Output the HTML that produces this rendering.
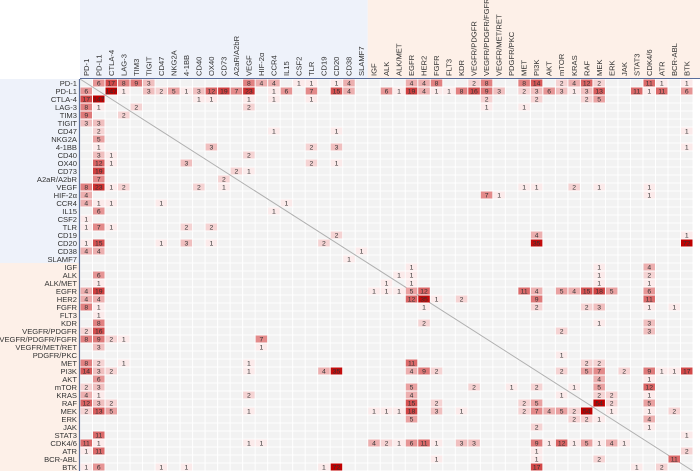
<!DOCTYPE html>
<html><head><meta charset="utf-8"><style>
html,body{margin:0;padding:0;background:#fff;}
svg{display:block;font-family:"Liberation Sans",sans-serif;}
</style></head><body>
<svg id="chart" width="700" height="471"></svg>
<script>
const labels = ["PD-1","PD-L1","CTLA-4","LAG-3","TIM3","TIGIT","CD47","NKG2A","4-1BB","CD40","OX40","CD73","A2aR/A2bR","VEGF","HIF-2α","CCR4","IL15","CSF2","TLR","CD19","CD20","CD38","SLAMF7","IGF","ALK","ALK/MET","EGFR","HER2","FGFR","FLT3","KDR","VEGFR/PDGFR","VEGFR/PDGFR/FGFR","VEGFR/MET/RET","PDGFR/PKC","MET","PI3K","AKT","mTOR","KRAS","RAF","MEK","ERK","JAK","STAT3","CDK4/6","ATR","BCR-ABL","BTK"];
const pairRow = [0,0,0,0,0,0,0,0,0,0,0,0,0,0,0,0,0,0,0,0,0,0,0,0,0,0,
1,1,1,1,1,1,1,1,1,1,1,1,1,1,1,1,1,1,1,1,1,1,1,1,1,1,1,1,1,1,1,1,1,1,1,1,1,
2,2,2,2,2,2,2,2,2, 3,3,3,3, 6,6,6, 8,8,8,8, 9, 10,10, 11,11, 13,13,13,13,13, 14,14,14, 15, 19,19,19, 20,20, 21,
23,23,23, 24,24,24,24, 25,25,25, 26,26,26,26,26,26,26,26,26,26, 27,27,27,27,27, 28,28,28,28,28, 30,30, 31,31, 34, 35,35,
36,36,36,36,36,36,36,36, 37,37, 38,38,38, 39,39,39, 40,40,40, 41,41,41, 42, 43, 44, 46, 47];
const pairCol = [1,2,3,4,5,13,14,15,17,18,20,21,26,27,28,31,32,35,36,38,39,40,41,45,46,48,
2,3,5,6,7,8,9,10,11,12,13,15,16,18,20,21,24,25,26,27,28,29,30,31,32,33,35,36,37,38,39,40,41,44,45,46,48,
9,10,13,15,18,32,36,40,41, 4,13,32,35, 15,20,48, 10,18,20,48, 13, 18,20, 12,13, 35,36,39,41,45, 32,33,45, 16, 20,36,48, 36,48, 22,
26,41,45, 25,26,41,45, 26,41,45, 26,27,35,36,38,39,40,41,42,45, 27,28,30,36,45, 36,40,41,45,47, 41,45, 38,45, 38, 40,41,
38,40,41,43,45,46,47,48, 41,45, 39,41,45, 41,42,45, 41,42,45, 42,45,47, 45, 45, 48, 48, 47];
const pairVal = [6,17,8,9,3,8,4,4,1,1,1,4,4,4,8,2,8,8,14,2,4,12,2,11,1,1,
147,1,3,2,5,1,3,12,19,7,23,1,6,7,15,4,6,1,19,4,1,1,8,16,9,3,2,3,6,3,1,3,13,11,1,11,6,
1,1,1,1,1,2,2,2,5, 2,2,1,1, 1,1,1, 3,2,3,1, 2, 2,1, 2,1, 1,1,2,1,1, 7,1,1, 1, 2,4,1, 35,72, 1,
1,1,4, 1,1,1,2, 1,1,1, 5,12,11,4,5,4,15,18,5,6, 35,1,2,9,11, 2,2,3,1,1, 1,3, 2,3, 1, 2,2,
2,5,7,2,9,1,1,17, 4,1, 1,5,12, 2,2,1, 54,2,5, 1,1,2, 4, 1, 1, 2, 11];

const NS="http://www.w3.org/2000/svg";
const svg=document.getElementById('chart');
const X0=80, Y0=79, CW=613/49, RH=8, N=labels.length;
const xPos=c=>X0+c*CW, yPos=r=>Y0+r*RH;
function mk(tag,attrs,parent){const e=document.createElementNS(NS,tag);for(const k in attrs)e.setAttribute(k,attrs[k]);(parent||svg).appendChild(e);return e;}
function color(v){
  let t=Math.pow(Math.min(1,Math.log(v)/Math.log(40)),1.4);
  const a=[251,234,234], b=[192,0,0];
  return `rgb(${a.map((x,i)=>Math.round(x+(b[i]-x)*t)).join(',')})`;
}
let e;
e=mk('rect',{x:X0,y:0,width:xPos(23)-X0,height:Y0,fill:'#eef2fa'});


e=mk('rect',{x:xPos(23),y:0,width:700-xPos(23),height:Y0,fill:'#fdf0e8'});


e=mk('rect',{x:0,y:Y0,width:X0,height:23*RH,fill:'#eef2fa'});


e=mk('rect',{x:0,y:yPos(23),width:X0,height:471-yPos(23),fill:'#fdf0e8'});


const g=mk('g',{});


for(let r=0;r<N;r++)for(let c=0;c<N;c++){
  mk('rect',{x:xPos(c)+0.5,y:yPos(r)+0.5,width:CW-1,height:RH-1,fill:'#f2f2f2'},g);
}
const M={};
for(let i=0;i<pairVal.length;i++){M[pairRow[i]+','+pairCol[i]]=pairVal[i];M[pairCol[i]+','+pairRow[i]]=pairVal[i];}
e=mk('line',{x1:X0,y1:Y0,x2:xPos(N),y2:yPos(N),stroke:'#b0b0b0','stroke-width':1});


for(const k in M){
  const [r,c]=k.split(',').map(Number), v=M[k];
  const cell=mk('rect',{x:xPos(c)+0.5,y:yPos(r)+0.5,width:CW-1,height:RH-1,fill:color(v)});
  
  
  const t=mk('text',{x:xPos(c)+CW/2,y:yPos(r)+RH/2+2.4,'font-size':6.8,'text-anchor':'middle',fill:'#333'});
  t.textContent=v;
  
  
}
e=mk('line',{x1:X0,y1:Y0-0.5,x2:700,y2:Y0-0.5,stroke:'#5a6e9c','stroke-width':1});


e=mk('line',{x1:X0-0.5,y1:Y0,x2:X0-0.5,y2:471,stroke:'#5a6e9c','stroke-width':1.2});


for(let i=0;i<N;i++){
  const rl=mk('text',{x:X0-3,y:yPos(i)+RH/2+2.8,'font-size':7.6,'text-anchor':'end',fill:'#333'});
  rl.textContent=labels[i];
  
  
  const cx=xPos(i)+CW/2+2.6, cy=Y0-3;
  const cl=mk('text',{x:cx,y:cy,'font-size':7.6,'text-anchor':'start',fill:'#333',transform:`rotate(-90 ${cx} ${cy})`});
  cl.textContent=labels[i];
  
  
}
</script>
</body></html>
